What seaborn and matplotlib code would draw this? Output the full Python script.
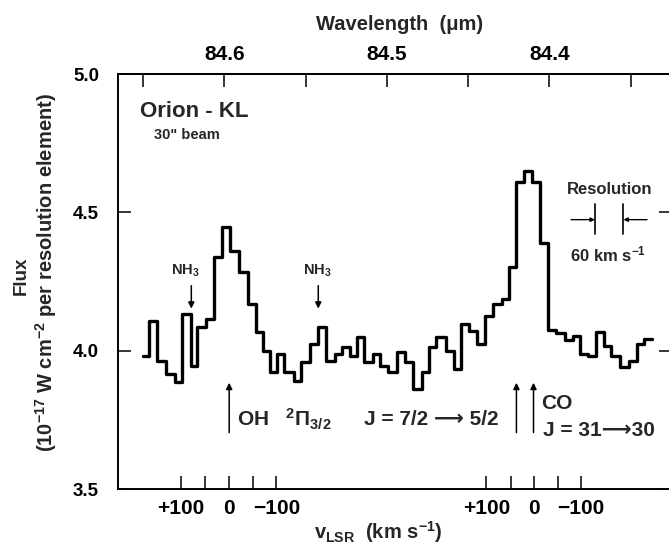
import numpy as np
import pandas as pd
import matplotlib
matplotlib.use("Agg")
import matplotlib.pyplot as plt
import seaborn as sns

# ---------------- data ----------------
# spectrum bin edges (wavelength, micron) and flux per bin (1e-17 W cm^-2 per resolution element)
wavelength_edges = [
    84.6500, 84.6464, 84.6411, 84.6358, 84.6305, 84.6258, 84.6203, 84.6167,
    84.6114, 84.6061, 84.6013, 84.5962, 84.5907, 84.5854, 84.5807, 84.5765,
    84.5716, 84.5674, 84.5631, 84.5574, 84.5528, 84.5475, 84.5422, 84.5373,
    84.5320, 84.5278, 84.5225, 84.5186, 84.5140, 84.5087, 84.5045, 84.4992,
    84.4939, 84.4886, 84.4839, 84.4784, 84.4742, 84.4695, 84.4636, 84.4589,
    84.4542, 84.4494, 84.4445, 84.4398, 84.4345, 84.4292, 84.4250, 84.4208,
    84.4155, 84.4106, 84.4059, 84.4006, 84.3958, 84.3907, 84.3858, 84.3809,
    84.3763, 84.3716, 84.3667, 84.3619, 84.3568, 84.3513, 84.3462, 84.3420,
    84.3371,
]
flux = [
    3.982, 4.108, 3.964, 3.916, 3.886, 4.133, 3.946, 4.084,
    4.114, 4.337, 4.448, 4.361, 4.283, 4.169, 4.066, 4.000,
    3.922, 3.988, 3.922, 3.892, 3.958, 4.024, 4.084, 3.964,
    3.988, 4.012, 3.982, 4.051, 3.958, 3.988, 3.946, 3.922,
    3.994, 3.958, 3.861, 3.922, 4.012, 4.048, 4.000, 3.934,
    4.096, 4.070, 4.024, 4.127, 4.169, 4.187, 4.301, 4.608,
    4.651, 4.608, 4.388, 4.075, 4.063, 4.039, 4.054, 3.988,
    3.982, 4.066, 4.018, 3.982, 3.942, 3.964, 4.024, 4.042,
]

# axis ticks
top_ticks = [84.65, 84.60, 84.55, 84.50, 84.45, 84.40, 84.35]
top_labels = ["", "84.6", "", "84.5", "", "84.4", ""]
oh_vel_ticks = [84.6267, 84.6119, 84.5970, 84.5822, 84.5680]   # OH  +100 .. -100 km/s
co_vel_ticks = [84.4388, 84.4239, 84.4095, 84.3947, 84.3805]   # CO  +100 .. -100 km/s
vel_labels = ["+100", "", "0", "", "\u2212100"]
y_ticks = [3.5, 4.0, 4.5, 5.0]
y_labels = ["3.5", "4.0", "4.5", "5.0"]

# ---------------- styling ----------------
sns.set_style("ticks")
plt.rcParams["font.family"] = ["Liberation Sans", "DejaVu Sans"]
plt.rcParams["font.weight"] = "bold"
plt.rcParams["mathtext.default"] = "regular"

fig = plt.figure(figsize=(6.69, 5.5), dpi=100)
ax = fig.add_axes([0.1771, 0.1109, 0.8274, 0.7545])

df = pd.DataFrame({"wl": wavelength_edges, "flux": flux + [flux[-1]]})
sns.lineplot(data=df, x="wl", y="flux", ax=ax, color="black", lw=2.4,
             drawstyle="steps-post", estimator=None, sort=False)

ax.set_xlim(84.6651, 84.3246)
ax.set_ylim(3.5, 5.0)
ax.set_xlabel("")
ax.set_ylabel("")

for s in ["left", "bottom", "top"]:
    ax.spines[s].set_linewidth(1.4)
    ax.spines[s].set_color("black")
ax.spines["right"].set_visible(False)

ax.set_xticks(oh_vel_ticks + co_vel_ticks, vel_labels + vel_labels)
ax.tick_params(axis="x", direction="in", length=9.5, width=1.1, pad=7,
               labelsize=15, colors="black")
ax.set_yticks(y_ticks, y_labels)
ax.tick_params(axis="y", direction="in", length=9.5, width=1.1, pad=14,
               labelsize=13.5, right=True, colors="black")

sec = ax.secondary_xaxis("top")
sec.set_xticks(top_ticks, top_labels)
sec.tick_params(direction="in", length=9.5, width=1.1, pad=7, labelsize=15,
                colors="black")
sec.spines["top"].set_linewidth(1.4)

# ---------------- labels ----------------
fig.text(400 / 669, 1 - 24 / 550, "Wavelength  (\u03bcm)", ha="center", va="center",
         fontsize=14.5)
fig.text(378 / 669, 1 - 532 / 550, r"v$_{LSR}$  (km s$^{-1}$)", ha="center", va="center",
         fontsize=14.5)
fig.text(21.7 / 669, 1 - 276 / 550, "Flux", rotation=90, ha="center", va="center",
         fontsize=13.5)
fig.text(46 / 669, 1 - 273 / 550, r"(10$^{-17}$ W cm$^{-2}$ per resolution element)",
         rotation=90, ha="center", va="center", fontsize=14.5)

ax.text(84.6519, 4.864, "Orion - KL", ha="left", va="center", fontsize=16,
        fontweight="semibold")
ax.text(84.6433, 4.781, '30" beam', ha="left", va="center", fontsize=10.5)

arrow_kw = dict(arrowstyle="-|>", color="black", lw=1.1, mutation_scale=9,
                shrinkA=0, shrinkB=0)

# NH3 markers
for lam_txt, lam_arr in [(84.6242, 84.6203), (84.5428, 84.5422)]:
    ax.text(lam_txt, 4.289, r"NH$_3$", ha="center", va="center", fontsize=10.5)
    ax.annotate("", xy=(lam_arr, 4.152), xytext=(lam_arr, 4.235), arrowprops=arrow_kw)

# line identification arrows (OH, OH, CO)
for lam in [84.5970, 84.4203, 84.4098]:
    ax.annotate("", xy=(lam, 3.884), xytext=(lam, 3.704), arrowprops=arrow_kw)

ax.text(84.5922, 3.75, r"OH   $^2\Pi_{3/2}$", ha="left", va="center", fontsize=15)
ax.text(84.5140, 3.75, "J = 7/2 \u27f6 5/2", ha="left", va="center", fontsize=15)
ax.text(84.4052, 3.810, "CO", ha="left", va="center", fontsize=15)
ax.text(84.4040, 3.711, "J = 31\u27f630", ha="left", va="center", fontsize=15)

# resolution marker
ax.text(84.3627, 4.584, "Resolution", ha="center", va="center", fontsize=12)
for lam in [84.3720, 84.3545]:
    ax.plot([lam, lam], [4.423, 4.531], color="black", lw=1.2)
small_kw = dict(arrowstyle="-|>", color="black", lw=1.0, mutation_scale=6,
                shrinkA=0, shrinkB=0)
ax.annotate("", xy=(84.3720, 4.4736), xytext=(84.3867, 4.4736), arrowprops=small_kw)
ax.annotate("", xy=(84.3545, 4.4736), xytext=(84.3400, 4.4736), arrowprops=small_kw)
ax.text(84.3637, 4.349, r"60 km s$^{-1}$", ha="center", va="center", fontsize=12)

fig.savefig("out.png", dpi=100)
